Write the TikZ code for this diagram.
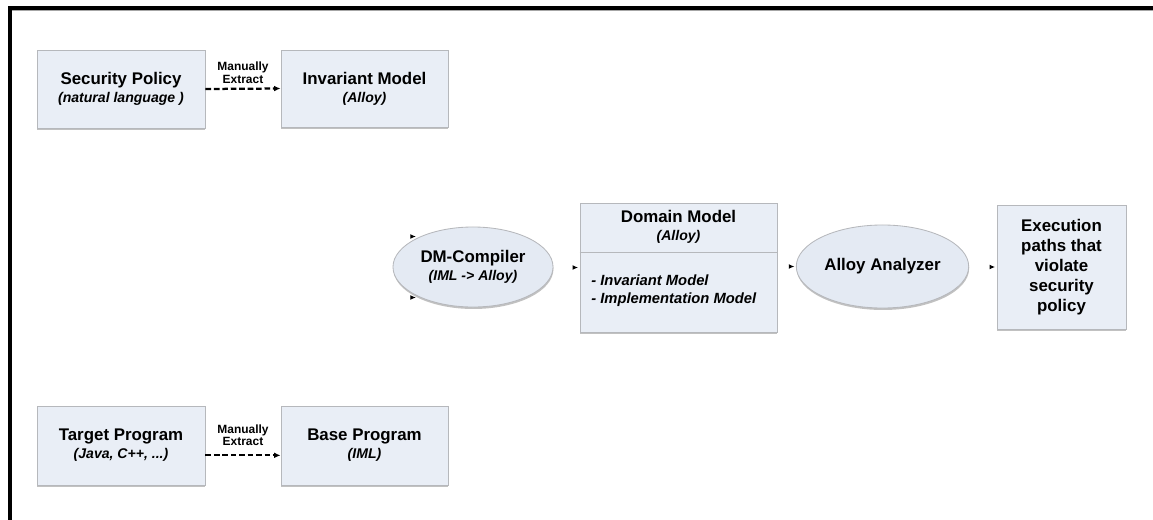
\documentclass[tikz,border=0pt]{standalone}
\usepackage{fontspec}
\setmainfont{Liberation Sans}
\usetikzlibrary{shapes.geometric,shadows,arrows.meta}
\definecolor{boxfill}{RGB}{233,238,246}
\definecolor{ovalfill}{RGB}{228,234,243}
\definecolor{boxline}{RGB}{182,184,188}
\newcommand{\subline}[1]{{\fontsize{10}{13}\selectfont\bfseries\itshape #1}}
\tikzset{
  box/.style={draw=boxline, fill=boxfill, line width=0.6pt, align=center, inner sep=2pt,
    drop shadow={shadow xshift=0.3pt, shadow yshift=-1.4pt, fill=black!30, opacity=0.8},
    font=\fontsize{12}{13}\selectfont},
  oval/.style={box, ellipse, fill=ovalfill},
  extract/.style={line width=1.6pt, dash pattern=on 4pt off 2pt, -{Latex[length=4.5pt,width=4pt]}},
  lbl/.style={font=\fontsize{8.5}{9}\selectfont\bfseries, align=center, inner sep=1pt},
  tip/.style={line width=0.9pt, -{Latex[length=4pt,width=3.5pt]}},
}
\begin{document}
\begin{tikzpicture}[x=0.025cm, y=-0.025cm]
\useasboundingbox (0,0) rectangle (1153,520);
\draw[black!35, line width=1pt] (12,10.5) -- (1153,10.5); % frame shade
\draw[line width=2.2pt] (10,520) -- (10,8) -- (1153,8); % frame
% policy row
\node[box, minimum width=4.2cm, minimum height=1.95cm] (policy) at (121,89) {\textbf{Security Policy}\\\subline{(natural language )}};
\node[box, minimum width=4.175cm, minimum height=1.925cm] (invariant) at (364.5,88.5) {\textbf{Invariant Model}\\\subline{(Alloy)}};
\draw[extract] (policy.east) -- node[lbl, above=2pt] (ext1) {Manually\\Extract} (invariant.west);
% program row
\node[box, minimum width=4.2cm, minimum height=1.975cm] (target) at (121,445.5) {\textbf{Target Program}\\\subline{(Java, C++, ...)}};
\node[box, minimum width=4.175cm, minimum height=1.975cm] (base) at (364.5,445.5) {\textbf{Base Program}\\\subline{(IML)}};
\draw[extract] ([yshift=-7pt]target.east) -- node[lbl, above=5pt] (ext2) {Manually\\Extract} ([yshift=-7pt]base.west);
% middle row
\node[oval, minimum width=4cm, minimum height=2cm] (compiler) at (473,267) {\textbf{DM-Compiler}\\\subline{(IML -> Alloy)}};
\node[box, minimum width=4.925cm, minimum height=3.225cm] (domain) at (678.5,267.5) {};
\draw[boxline, line width=0.6pt] ([yshift=-1.25cm]domain.north west) -- ([yshift=-1.25cm]domain.north east); % divider
\node[align=center, font=\fontsize{12}{13}\selectfont, inner sep=0pt] (dmhead) at (678.5,227) {\textbf{Domain Model}\\\subline{(Alloy)}};
\node[align=left, font=\fontsize{10.5}{13}\selectfont\bfseries\itshape, anchor=west, inner sep=0pt] (dmbody) at (591,291) {- Invariant Model\\- Implementation Model};
\node[oval, minimum width=4.025cm, minimum height=2.075cm] (analyzer) at (882.5,266.5) {\textbf{Alloy Analyzer}};
\node[box, minimum width=3.225cm, minimum height=3.1cm, font=\fontsize{12}{14.2}\selectfont\bfseries] (paths) at (1061.5,267) {Execution\\paths that\\violate\\security\\policy};
% arrow tips
\draw[tip] ([xshift=-6pt]compiler.150) -- ([xshift=-3pt]compiler.150);
\draw[tip] ([xshift=-6pt]compiler.210) -- ([xshift=-3pt]compiler.210);
\draw[tip] ([xshift=-4pt]domain.west) -- ([xshift=-1pt]domain.west);
\draw[tip] ([xshift=-4pt]analyzer.west) -- ([xshift=-1pt]analyzer.west);
\draw[tip] ([xshift=-4pt]paths.west) -- ([xshift=-1pt]paths.west);
\end{tikzpicture}
\end{document}
